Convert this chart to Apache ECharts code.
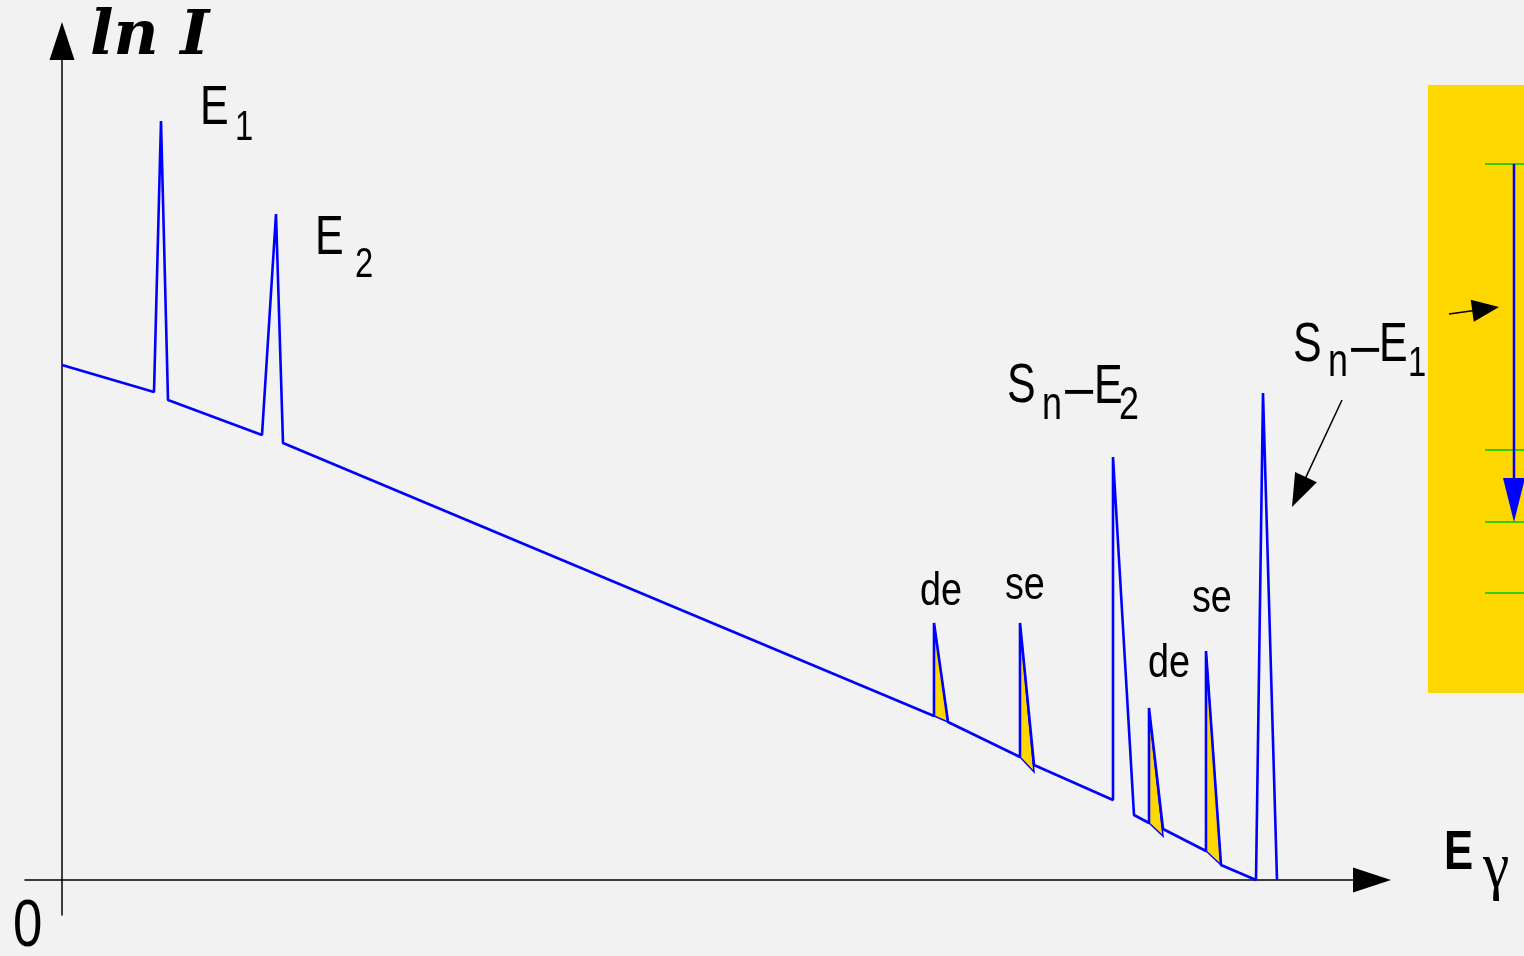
<!DOCTYPE html>
<html>
<head>
<meta charset="utf-8">
<script src="https://cdn.jsdelivr.net/npm/echarts@6.0.0/dist/echarts.min.js"></script>
<style>
  html, body { margin: 0; padding: 0; background: #f2f2f2; }
  #chart { width: 1524px; height: 956px; }
</style>
</head>
<body>
<div id="chart"></div>
<script>
// Schematic gamma spectrum: energy (arb. units) vs ln of intensity.
const energy = [0.00, 0.92, 0.99, 1.06, 2.00, 2.14, 2.21, 8.72, 8.72, 8.86, 9.58, 9.58, 9.72,
                10.51, 10.51, 10.72, 10.87, 10.87, 11.01, 11.44, 11.44, 11.59, 11.94, 12.01, 12.15];
const lnI    = [5.15, 4.88, 7.59, 4.80, 4.45, 6.66, 4.37, 1.64, 2.57, 1.58, 1.23, 2.57, 1.15,
                0.80, 4.23, 0.65, 0.57, 1.72, 0.51, 0.29, 2.29, 0.15, 0.00, 4.87, 0.00];

// Escape peaks (double / single escape), shaded triangles
const escLeftX  = [8.72, 9.58, 10.87, 11.44];
const escTop    = [2.57, 2.57, 1.72, 2.29];
const escFoot   = [1.64, 1.23, 0.57, 0.29];
const escRightX = [8.86, 9.72, 11.01, 11.59];
const escRightY = [1.58, 1.08, 0.44, 0.15];

const spectrum = energy.map((e, i) => [e, lnI[i]]);
const escapes = escLeftX.map((x, i) => [x, escTop[i], escFoot[i], escRightX[i], escRightY[i]]);

const SANS = '"Liberation Sans", Arial, sans-serif';
function txt(s, x, base, size, o = {}) {
  const k = o.k != null ? o.k : 0.3465;
  return {
    type: 'text', x: x, y: base - k * size, scaleX: o.sx != null ? o.sx : 0.78, z: 10,
    style: {
      text: s, fill: '#000', align: 'left', verticalAlign: 'middle',
      font: (o.w || 'normal') + ' ' + size + 'px ' + (o.f || SANS)
    }
  };
}
function arrow(x1, y1, x2, y2, headLen, headW, color, lw) {
  const dx = x2 - x1, dy = y2 - y1, L = Math.hypot(dx, dy);
  const ux = dx / L, uy = dy / L, px = -uy, py = ux;
  const bx = x2 - ux * headLen, by = y2 - uy * headLen;
  return [
    { type: 'line', z: 10, shape: { x1: x1, y1: y1, x2: bx + ux * 2, y2: by + uy * 2 },
      style: { stroke: color, lineWidth: lw } },
    { type: 'polygon', z: 10, shape: { points: [[x2, y2], [bx + px * headW / 2, by + py * headW / 2], [bx - px * headW / 2, by - py * headW / 2]] },
      style: { fill: color } }
  ];
}

const graphics = [
  // level-scheme panel
  { type: 'rect', z: 5, shape: { x: 1428, y: 85, width: 110, height: 608 }, style: { fill: '#FFD700' } },
  ...[164, 450, 522, 593].map(y => ({ type: 'line', z: 6, shape: { x1: 1485, y1: y, x2: 1524, y2: y },
      style: { stroke: '#33cc00', lineWidth: 2 } })),
  ...arrow(1514, 164, 1514, 522, 44, 22, '#0000ff', 2.5),
  ...arrow(1449, 314, 1499, 307, 27, 22, '#000', 1.5),
  ...arrow(1342, 400, 1292, 507, 33, 24, '#000', 1.5),

  // axis titles
  txt('ln I', 90, 59, 62, { w: 'bold italic', f: '"DejaVu Serif", serif', sx: 1 }),
  txt('E', 1444, 873, 56, { w: 'bold' }),
  txt('γ', 1483, 893, 66, { f: '"Liberation Serif", serif', sx: 0.9 }),
  txt('0', 13, 951, 66, { sx: 0.8 }),

  // peak labels
  txt('E', 200, 128, 55), txt('1', 235, 143, 42),
  txt('E', 315, 258, 55), txt('2', 355, 280, 42),
  txt('S', 1007, 406, 55), txt('n', 1042, 422, 46), txt('\u2212', 1062, 414, 55, { sx: 1.05 }), txt('E', 1094, 407, 55), txt('2', 1119, 422, 46),
  txt('S', 1293, 365, 55), txt('n', 1328, 379, 46), txt('\u2212', 1348, 372, 55, { sx: 1.05 }), txt('E', 1379, 365, 55), txt('1', 1408, 379, 42),
  txt('de', 920, 608, 46, { sx: 0.82 }), txt('se', 1005, 602, 46, { sx: 0.82 }),
  txt('de', 1148, 680, 46, { sx: 0.82 }), txt('se', 1192, 615, 46, { sx: 0.82 })
];

const chart = echarts.init(document.getElementById('chart'), null, { renderer: 'canvas' });
chart.setOption({
  animation: false,
  backgroundColor: '#f2f2f2',
  grid: { left: 25, right: 152, top: 41, bottom: 41 },
  xAxis: {
    type: 'value', min: -0.37, max: 13.10,
    axisLine: { onZero: true, symbol: ['none', 'triangle'], symbolSize: [25, 38], lineStyle: { color: '#000', width: 1.5 } },
    axisTick: { show: false }, axisLabel: { show: false }, splitLine: { show: false }
  },
  yAxis: {
    type: 'value', min: -0.35, max: 8.39,
    axisLine: { onZero: true, symbol: ['none', 'triangle'], symbolSize: [25, 38], lineStyle: { color: '#000', width: 1.5 } },
    axisTick: { show: false }, axisLabel: { show: false }, splitLine: { show: false }
  },
  series: [
    {
      type: 'custom', z: 2, clip: false,
      encode: { x: [0, 3], y: [1, 2, 4] },
      data: escapes,
      renderItem: function (params, api) {
        const a = api.coord([api.value(0), api.value(1)]);
        const b = api.coord([api.value(0), api.value(2)]);
        const c = api.coord([api.value(3), api.value(4)]);
        return { type: 'polygon', shape: { points: [a, b, c] }, style: { fill: '#FFD700', stroke: '#0000ff', lineWidth: 1.5 } };
      }
    },
    {
      type: 'line', z: 3, data: spectrum, symbol: 'none', clip: false,
      lineStyle: { color: '#0000ff', width: 2.6 }
    }
  ],
  graphic: graphics
});
</script>
</body>
</html>
